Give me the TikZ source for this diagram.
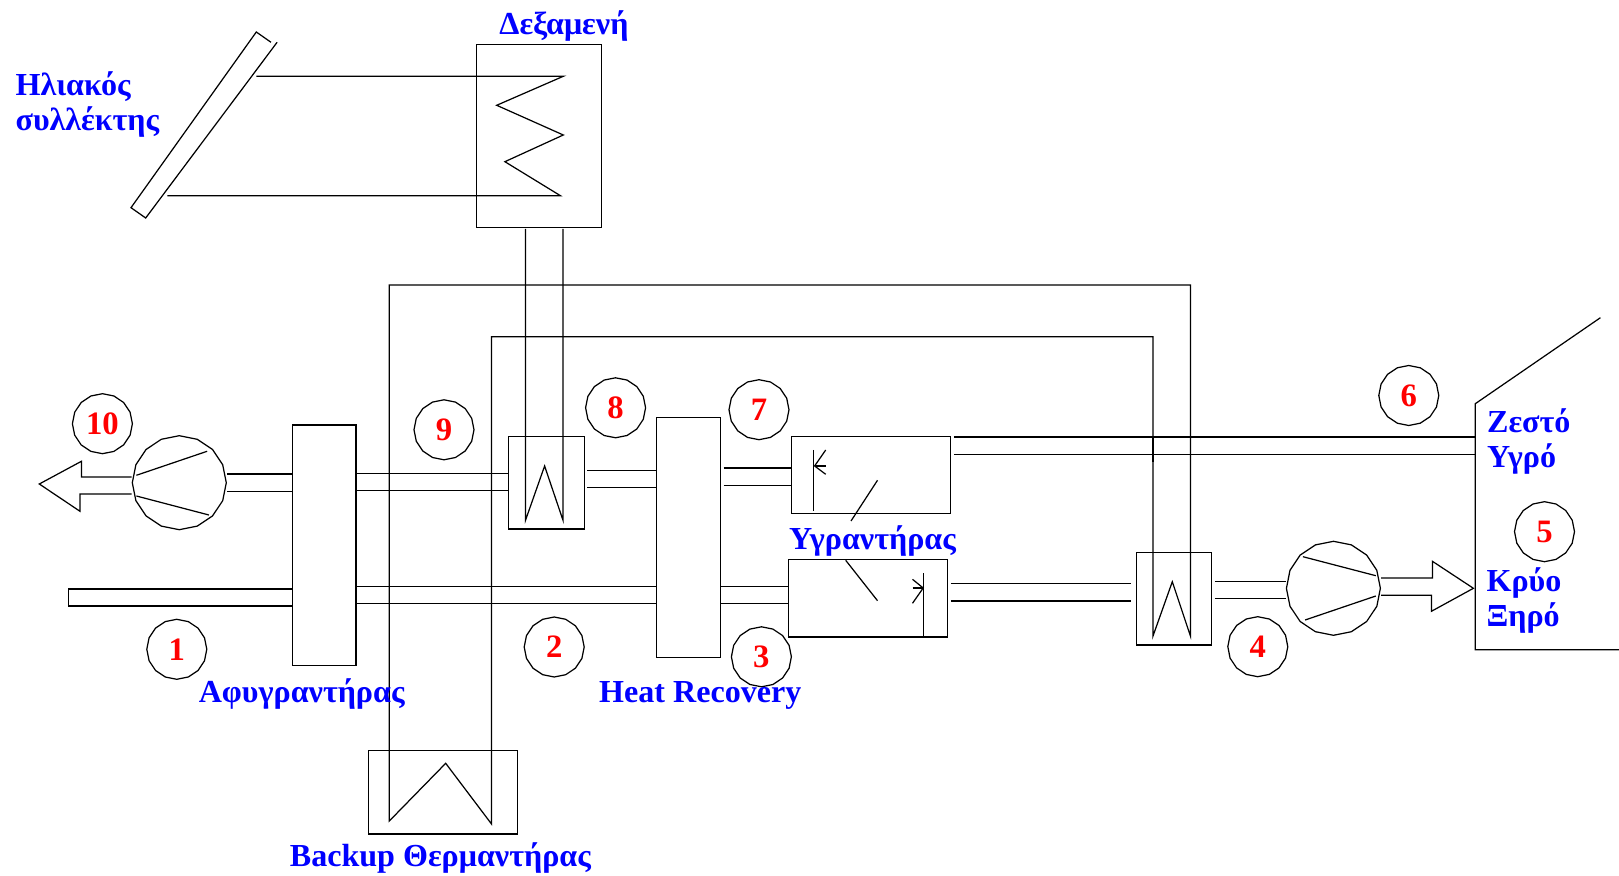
\documentclass[tikz,border=0pt]{standalone}
\usepackage{fontspec}
\setmainfont{Liberation Serif}
\usetikzlibrary{shapes.geometric}
\definecolor{labelblue}{rgb}{0,0,1}
\definecolor{numred}{rgb}{1,0,0}
\begin{document}
\begin{tikzpicture}[x=0.02cm,y=-0.02cm,line width=0.7pt,
  device/.style={draw,rectangle,inner sep=0pt},
  num/.style={draw,regular polygon,regular polygon sides=16,shape border rotate=11.25,minimum size=1.2cm,inner sep=0pt,text=numred,font=\fontsize{18.6}{20}\selectfont\bfseries},
  fan/.style={draw,regular polygon,regular polygon sides=16,shape border rotate=11.25,minimum size=1.88cm,inner sep=0pt},
  lbl/.style={text=labelblue,inner sep=0pt,font=\fontsize{18.25}{20}\selectfont\bfseries},
  gap/.style={shorten <=0.05cm}]
\useasboundingbox (0,0) rectangle (1619,875.2);

\node[device,minimum width=2.506cm,minimum height=3.668cm] (tank) at (539,136) {};
\node[device,minimum width=2.972cm,minimum height=1.666cm] (backup) at (443,792.4) {};
\node[device,minimum width=1.27cm,minimum height=4.806cm] (dryer) at (324.3,545.2) {};
\node[device,minimum width=1.272cm,minimum height=4.8cm] (recovery) at (688.6,537.3) {};
\node[device,minimum width=1.514cm,minimum height=1.846cm] (heatA) at (546.5,482.9) {};
\node[device,minimum width=1.508cm,minimum height=1.846cm] (heatB) at (1174.1,598.9) {};
\node[device,minimum width=3.186cm,minimum height=1.54cm] (humA) at (871,474.8) {};
\node[device,minimum width=3.194cm,minimum height=1.546cm] (humB) at (868,598.4) {};
\node[fan] (fanA) at (179.3,482.7) {};
\node[fan] (fanB) at (1333.4,588.3) {};

\coordinate (wall) at (1475.3,403.7);
\coordinate (roof) at (1600.4,317.7);
\coordinate (floor) at (1619,649.7);
\draw (roof) -- (wall) -- (wall |- floor) -- (floor);

% collector and tank coil
\coordinate (panelA) at (256.3,76.3);
\coordinate (panelB) at (167.3,195.7);
\draw (271,42.3) -- (256.3,32) -- (131,207.7) -- (145.7,218) -- (277.1,42.3);
\draw (panelA) -- (563.3,76.3) -- (496.7,105.3) -- (563.3,135) -- (504.9,161.7) -- (560.4,195.7) -- (panelB);

% tank to first coil
\draw (525.5,229) -- (525.5,520.3) -- (544.6,466) -- (563,520.3) -- (563,229);

% backup loop
\coordinate (loopA) at (389.3,821);
\coordinate (loopB) at (491.5,824);
\draw (loopA) -- (389.3,285) -- (1190.4,285) -- (1190.4,636) -- (1172.3,581.7) -- (1153,636) -- (1153,336.7) -- (491.5,336.7) -- (loopB) -- (445.7,763.3) -- cycle;
\draw[line width=1.4pt] (1153,437) -- (1153,461.7);

% ducts, upper row
\draw (fanA.east |- 0,474) -- (dryer.west |- 0,474);
\draw (fanA.east |- 0,491.3) -- (dryer.west |- 0,491.3);
\draw (dryer.east |- 0,473.3) -- (heatA.west |- 0,473.3);
\draw (dryer.east |- 0,490.3) -- (heatA.west |- 0,490.3);
\draw[gap] (heatA.east |- 0,470.3) -- (recovery.west |- 0,470.3);
\draw[gap] (heatA.east |- 0,487.7) -- (recovery.west |- 0,487.7);
\draw[gap] (recovery.east |- 0,468) -- (humA.west |- 0,468);
\draw[gap] (recovery.east |- 0,485.3) -- (humA.west |- 0,485.3);
\draw[gap] (humA.east |- 0,437) -- (wall |- 0,437);
\draw[gap] (humA.east |- 0,454.3) -- (wall |- 0,454.3);

% ducts, lower row
\draw (dryer.west |- 0,589) -- (68.6,589) -- (68.6,606) -- (dryer.west |- 0,606);
\draw (dryer.east |- 0,586.3) -- (recovery.west |- 0,586.3);
\draw (dryer.east |- 0,603.7) -- (recovery.west |- 0,603.7);
\draw (recovery.east |- 0,586.3) -- (humB.west |- 0,586.3);
\draw (recovery.east |- 0,603.7) -- (humB.west |- 0,603.7);
\draw[gap] (humB.east |- 0,583.7) -- (1130.6,583.7);
\draw[gap] (humB.east |- 0,601) -- (1130.6,601);
\draw[gap] (heatB.east |- 0,581.3) -- (fanB.west |- 0,581.3);
\draw[gap] (heatB.east |- 0,598.7) -- (fanB.west |- 0,598.7);

% fans and their outlets
\draw (136.4,475.3) -- (207.1,451.3);
\draw (136.4,496) -- (208.9,515);
\draw (fanA.west |- 0,477) -- (81.4,477) -- (81.4,461.3) -- (39.3,484) -- (80,511.3) -- (80,494) -- (fanA.west |- 0,494);
\draw (1302.9,556.7) -- (1375.8,575.7);
\draw (1305.1,620) -- (1375.8,596);
\draw (fanB.east |- 0,578) -- (1432.4,578) -- (1432.4,561.3) -- (1473.4,588.3) -- (1431.4,611.3) -- (1431.4,595.3) -- (fanB.east |- 0,595.3);

% humidifier insides
\draw (813.2,450) -- (813.2,510.7);
\draw (825.7,450) -- (814.6,466) -- (825.7,474.3);
\draw (814.6,466) -- (825.7,466);
\draw (877.5,480.3) -- (851,521);
\draw (923.2,573.3) -- (923.2,637);
\draw (912.5,579.3) -- (923.2,588) -- (912.5,603.3);
\draw (912.5,588) -- (923.2,588);
\draw (845.7,560.3) -- (877.5,600.7);

\node[num] (n1) at (176.8,649.3) {1};
\node[num] (n2) at (554.2,647) {2};
\node[num] (n3) at (761.4,656.8) {3};
\node[num] (n4) at (1257.8,646.7) {4};
\node[num] (n5) at (1544.5,531.7) {5};
\node[num] (n6) at (1408.8,395.5) {6};
\node[num] (n7) at (759,409.7) {7};
\node[num] (n8) at (615.6,407.8) {8};
\node[num] (n9) at (444,429.8) {9};
\node[num] (n10) at (102.4,423.7) {10};

\node[lbl,anchor=base west] (tankLabel) at (498.8,34.7) {Δεξαμενή};
\node[lbl,anchor=west,align=left] (panelLabel) at (15,104.5) {Ηλιακός\\συλλέκτης};
\node[lbl,anchor=base west] (dryerLabel) at (198.2,702.7) {Αφυγραντήρας};
\node[lbl,anchor=base west] (recoveryLabel) at (598.6,702.5) {Heat Recovery};
\node[lbl,anchor=base west] (humLabel) at (788.5,550) {Υγραντήρας};
\node[lbl,anchor=base west] (backupLabel) at (289.3,866.7) {Backup Θερμαντήρας};
\node[lbl,anchor=west,align=left] (hotLabel) at (1486.5,441.5) {Ζεστό\\Υγρό};
\node[lbl,anchor=west,align=left] (coldLabel) at (1486,600.5) {Κρύο\\Ξηρό};
\end{tikzpicture}
\end{document}
